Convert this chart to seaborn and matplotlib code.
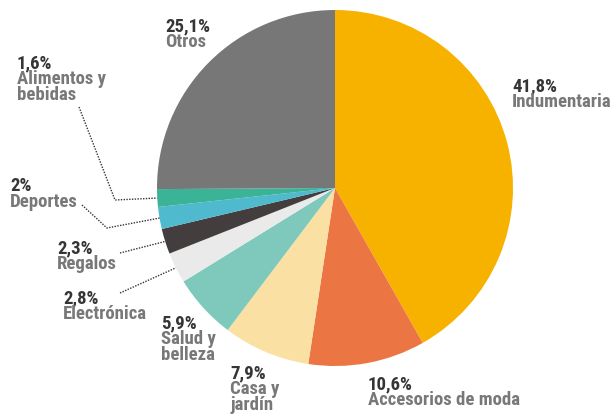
import numpy as np
import matplotlib
matplotlib.use("Agg")
import matplotlib.pyplot as plt
import seaborn as sns

# Share of online sales by category (%)
categories = ["Indumentaria", "Accesorios de moda", "Casa y\njardín", "Salud y\nbelleza",
              "Electrónica", "Regalos", "Deportes", "Alimentos y\nbebidas", "Otros"]
values = [41.8, 10.6, 7.9, 5.9, 2.8, 2.3, 2.0, 1.6, 25.1]
colors = ["#F7B200", "#EC7544", "#FAE0A2", "#7EC9BC", "#EAEAEA",
          "#433D3E", "#4FBACE", "#3AB397", "#777777"]

# Label anchors (left, top) in pixels
label_pos = [(512, 80), (368, 378), (230, 367), (161, 317), (63, 292),
             (57, 242), (10, 180), (17, 57), (165, 20)]
# Leader line starting points (label side) and optional knees, pixels
leaders = {
    7: [(79, 107), (115, 200)],
    6: [(82, 205), (107, 228)],
    5: [(120, 253)],
    4: [(120, 293)],
}

W, H = 612, 417
sns.set_theme(style="white")
plt.rcParams["font.family"] = ["Roboto Condensed", "Archivo Narrow", "Barlow Condensed",
                               "PT Sans Narrow", "Saira SemiCondensed", "DejaVu Sans"]

fig = plt.figure(figsize=(W / 100, H / 100), dpi=100)
ax = fig.add_axes([0, 0, 1, 1])

cx, cy, r = 335, 188, 178
wedges, _ = ax.pie(values, colors=colors, startangle=90, counterclock=False,
                   center=(cx, H - cy), radius=r,
                   wedgeprops=dict(linewidth=0, antialiased=True))
ax.set_xlim(0, W)
ax.set_ylim(0, H)
ax.set_aspect("equal")
ax.axis("off")


def fmt(v):
    return f"{v:g}".replace(".", ",") + "%"


fs = 13.5
for i, (cat, v) in enumerate(zip(categories, values)):
    x, y = label_pos[i]
    ax.text(x, H - y + 3, fmt(v), fontsize=fs, fontweight="bold", color="#353535",
            va="top", ha="left")
    ax.text(x, H - y - 13, cat, fontsize=fs, fontweight="bold", color="#787878",
            va="top", ha="left", linespacing=0.85)

# Dotted leader lines to the small wedges
for i, pts in leaders.items():
    w = wedges[i]
    mid = np.deg2rad((w.theta1 + w.theta2) / 2)
    ex = cx + r * np.cos(mid)
    ey = (H - cy) + r * np.sin(mid)
    xs = [p[0] for p in pts] + [ex]
    ys = [H - p[1] for p in pts] + [ey]
    ax.plot(xs, ys, linestyle=(0, (1, 1)), color="#333333", linewidth=1)

fig.savefig("out.png", dpi=100)
